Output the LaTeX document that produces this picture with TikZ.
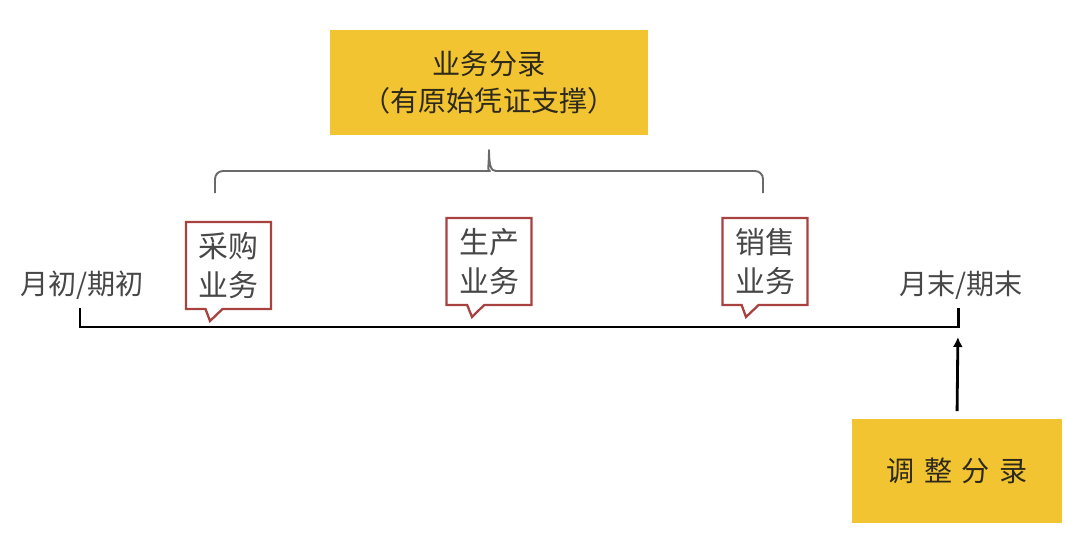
\documentclass[tikz,border=0pt]{standalone}
\usepackage{fontspec}
\setmainfont{Noto Sans CJK SC}
\usetikzlibrary{arrows.meta, positioning, shapes.callouts}

\begin{document}
\begin{tikzpicture}[
    x=0.02cm, y=-0.02cm,
    every node/.style={font=\fontsize{16}{21}\selectfont, text=textgray},
    entrybox/.style={fill=gold, minimum width=4.2cm, minimum height=2.1cm,
                     align=center, text=darktext},
    callbox/.style={rectangle callout, draw=rust, line width=1.3pt, fill=white,
                    minimum width=1.7cm, minimum height=1.74cm, inner sep=1pt,
                    align=center, callout pointer width=0.34cm,
                    font=\fontsize{17}{22.5}\selectfont},
]

\definecolor{gold}{HTML}{F2C431}      % the two entry boxes
\definecolor{rust}{HTML}{A8423F}      % callout outline
\definecolor{textgray}{HTML}{474747}
\definecolor{darktext}{HTML}{2E2A1A}
\definecolor{bracegray}{HTML}{6A6A6A}

% ================================================================
% Units are pixels of the 1074 x 544 frame, y running downwards.
%
% y =  82   journal box (top)
% y = 193   brace feet, bar at y = 171, tip at y = 150
% y = 266   three business callouts
% y = 327   period line, x from 80 to 958
% y = 471   adjustment box
% ================================================================

\useasboundingbox (0,0) rectangle (1074,544);

% ---------------------------------------------------------------- top box
\node[entrybox, minimum width=6.36cm] (journal) at (489,82.5)
    {业务分录\\（有原始凭证支撑）};

% ---------------------------------------------------------------- brace
\coordinate (bl) at (215,193);
\coordinate (br) at (763,193);
\coordinate (btip) at (489,150);
\draw[bracegray, line width=1.1pt, line join=round]
    [rounded corners=0.16cm] (bl) -- (215,171) -- (482,171) [sharp corners]
    .. controls (487,171) and (489,166) .. (btip)
    .. controls (489,166) and (491,171) .. (496,171)
    [rounded corners=0.16cm] -- (763,171) -- (br);

% ---------------------------------------------------------------- period line
\coordinate (t0) at (80,327);
\coordinate (t1) at (958,327);
\coordinate (t0up) at (80,308);
\coordinate (t1up) at (958,308);
\draw[black, line width=1.7pt] (t0up) -- (t0) -- (t1) -- (t1up);

\node (start) at (82,285) {月初/期初};
\node (end)   at (961,285) {月末/期末};

% ---------------------------------------------------------------- business
\node[callbox, callout absolute pointer={(210,321)}] (buy)  at (228.5,265.5) {采购\\业务};
\node[callbox, callout absolute pointer={(472,317)}] (make) at (489,261.5)  {生产\\业务};
\node[callbox, callout absolute pointer={(746,317)}] (sell) at (765,261.5)  {销售\\业务};

% ---------------------------------------------------------------- adjustment
\node[entrybox] (adjust) at (957,471) {调\,\,整\,\,分\,\,录};
\draw[-{Latex[length=0.2cm, width=0.2cm]}, line width=1.6pt,
      shorten <=0.14cm, shorten >=0.2cm] (adjust.north) -- (t1);

\end{tikzpicture}
\end{document}
